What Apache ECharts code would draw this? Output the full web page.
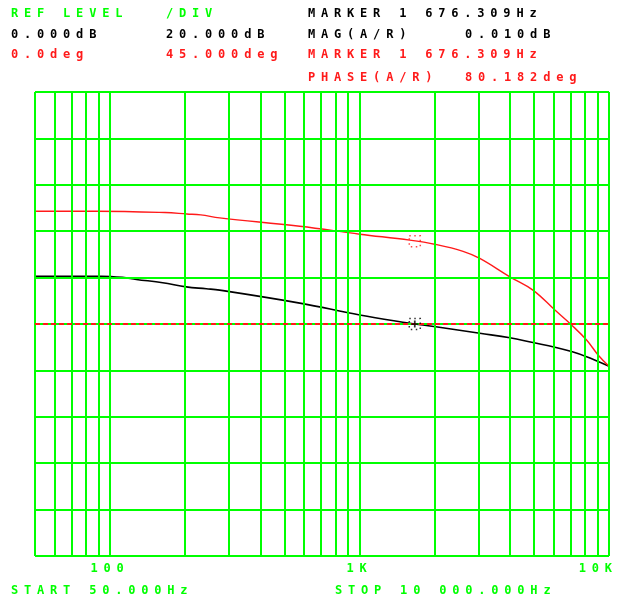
<!DOCTYPE html>
<html>
<head>
<meta charset="utf-8">
<script src="https://cdn.jsdelivr.net/npm/echarts@6/dist/echarts.min.js"></script>
<style>
html,body{margin:0;padding:0;background:#fff;}
#chart{width:620px;height:604px;}
</style>
</head>
<body>
<div id="chart"></div>
<script>
// ---- data ----
const freqMag = [50, 92, 112, 127.5, 162.5, 202, 243, 275, 576, 1002, 1589, 1665, 2022, 3034, 4005, 4955, 6070, 7078, 8130, 9045, 10000];
const magDb   = [20.6, 20.6, 20.1, 19.2, 17.8, 16.0, 15.2, 14.6, 9.0, 3.9, 0.3, 0.0, -1.2, -4.0, -5.9, -8.0, -10.0, -11.9, -14.1, -16.2, -18.2];
const freqPhase = [50, 88, 166, 203, 231, 275, 576, 1002, 1589, 2022, 2600, 3034, 4005, 4955, 6070, 7078, 8130, 9040, 10000];
const phaseDeg  = [109.4, 109.4, 108.1, 106.7, 105.8, 102.9, 94.8, 87.1, 81.3, 77.1, 70.5, 63.6, 45.8, 32.9, 13.5, -1.0, -15.5, -30.0, -41.0];
const gridFreqs = [50, 60, 70, 80, 90, 100, 200, 300, 400, 500, 600, 700, 800, 900, 1000, 2000, 3000, 4000, 5000, 6000, 7000, 8000, 9000, 10000];
const tickValues = [100, 1000, 10000];
const tickLabels = ['100', '1K', '10K'];
const markerFreq = 1665;
const markerMag = 0.0;
const markerPhase = 80.2;
const headerGreen = ['REF LEVEL', '/DIV'];
const headerBlack = ['0.000dB', '20.000dB', 'MARKER 1 676.309Hz', 'MAG(A/R)', '0.010dB'];
const headerRed = ['0.0deg', '45.000deg', 'MARKER 1 676.309Hz', 'PHASE(A/R)', '80.182deg'];
const footer = ['START 50.000Hz', 'STOP 10 000.000Hz'];

// wide instrument-style letter spacing
const SPACING = 5.8;
(function(){
  const P = CanvasRenderingContext2D.prototype;
  if ('letterSpacing' in P) {
    const f = P.fillText;
    P.fillText = function(t, x, y, m){
      this.letterSpacing = SPACING + 'px';
      if (this.textAlign === 'right' || this.textAlign === 'end') x += SPACING + 3;
      return m === undefined ? f.call(this, t, x, y) : f.call(this, t, x, y, m);
    };
  }
})();

const GREEN = '#00ff00', RED = '#ff1a1a', BLACK = '#000000';
const FONT = 'bold 12px "DejaVu Sans Mono"';
function txt(t, x, y, c){ return {type:'text', x:x, y:y, silent:true, style:{text:t, fill:c, font:FONT, align:'left', verticalAlign:'middle'}}; }

const graphics = [
  txt(headerGreen[0], 11, 14, GREEN), txt(headerGreen[1], 166, 14, GREEN),
  txt(headerBlack[0], 11, 34.5, BLACK), txt(headerBlack[1], 166, 34.5, BLACK),
  txt(headerBlack[2], 308, 14, BLACK), txt(headerBlack[3], 308, 34.5, BLACK), txt(headerBlack[4], 465, 34.5, BLACK),
  txt(headerRed[0], 11, 55, RED), txt(headerRed[1], 166, 55, RED),
  txt(headerRed[2], 308, 55, RED), txt(headerRed[3], 308, 77.5, RED), txt(headerRed[4], 465, 77.5, RED),
  txt(footer[0], 11, 591, GREEN), txt(footer[1], 335, 591, GREEN)
];

const chart = echarts.init(document.getElementById('chart'), null, {renderer:'canvas'});
chart.setOption({
  animation: false,
  backgroundColor: '#ffffff',
  grid: {left: 35, right: 11, top: 92, bottom: 48},
  graphic: graphics,
  xAxis: {
    type: 'log', logBase: 10, min: 50, max: 10000, z: 3,
    axisLine: {show: false}, axisTick: {show: false}, splitLine: {show: false},
    axisLabel: {
      color: GREEN, fontFamily: 'DejaVu Sans Mono', fontWeight: 'bold', fontSize: 12, margin: 7,
      showMinLabel: false, alignMaxLabel: 'right',
      formatter: function(v){ const i = tickValues.indexOf(Math.round(v)); return i >= 0 ? tickLabels[i] : ''; }
    }
  },
  yAxis: [
    {type: 'value', min: -100, max: 100, interval: 20, z: 3,
     axisLine: {show: false}, axisTick: {show: false}, axisLabel: {show: false},
     splitLine: {show: true, lineStyle: {color: GREEN, width: 2}}},
    {type: 'value', min: -225, max: 225, interval: 45,
     axisLine: {show: false}, axisTick: {show: false}, axisLabel: {show: false}, splitLine: {show: false}}
  ],
  series: [
    {type: 'line', name: 'MAG', yAxisIndex: 0, z: 1, smooth: 0.4, showSymbol: false, silent: true,
     lineStyle: {color: BLACK, width: 1.6},
     data: freqMag.map((f, i) => [f, magDb[i]])},
    {type: 'line', name: 'PHASE', yAxisIndex: 1, z: 1, smooth: 0.4, showSymbol: false, silent: true,
     lineStyle: {color: RED, width: 1.4},
     data: freqPhase.map((f, i) => [f, phaseDeg[i]])},
    {type: 'line', name: 'grid', yAxisIndex: 0, z: 3, data: [], silent: true,
     markLine: {silent: true, symbol: ['none', 'none'], label: {show: false}, animation: false,
       lineStyle: {color: GREEN, width: 2, type: 'solid'},
       emphasis: {disabled: true},
       data: gridFreqs.map(f => ({xAxis: f}))}},
    {type: 'line', name: 'ref', yAxisIndex: 0, z: 4, data: [], silent: true,
     markLine: {silent: true, symbol: ['none', 'none'], label: {show: false}, animation: false,
       lineStyle: {color: RED, width: 2, type: [5, 3]},
       emphasis: {disabled: true},
       data: [{yAxis: 0}]}},
    {type: 'scatter', yAxisIndex: 0, z: 5, silent: true, symbol: 'rect', symbolSize: 11,
     itemStyle: {color: 'rgba(0,0,0,0)', borderColor: BLACK, borderWidth: 1.5, borderType: [1.5, 3.5]},
     data: [[markerFreq, markerMag]]},
    {type: 'scatter', yAxisIndex: 0, z: 6, silent: true,
     symbol: 'path://M3,0h2v8h-2zM0,3h8v2h-8z', symbolSize: 7,
     itemStyle: {color: BLACK},
     data: [[markerFreq, markerMag]]},
    {type: 'scatter', yAxisIndex: 1, z: 5, silent: true, symbol: 'rect', symbolSize: 11,
     itemStyle: {color: 'rgba(0,0,0,0)', borderColor: RED, borderWidth: 1.5, borderType: [1.5, 3.5]},
     data: [[markerFreq, markerPhase]]}
  ]
});
</script>
</body>
</html>
